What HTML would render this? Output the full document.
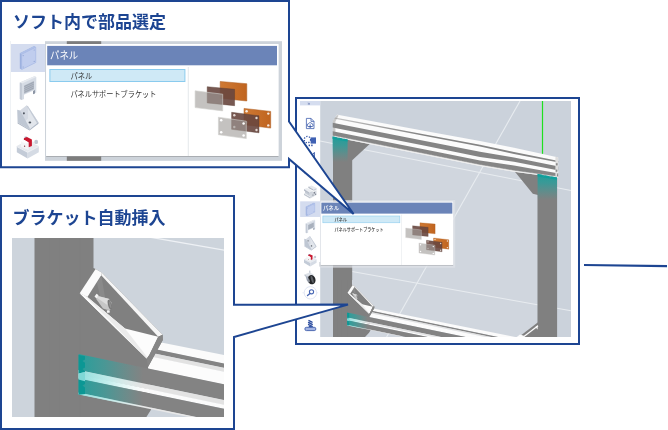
<!DOCTYPE html>
<html lang="ja">
<head>
<meta charset="utf-8">
<title>ソフト内で部品選定 / ブラケット自動挿入</title>
<style>
html,body{margin:0;padding:0;background:#fff;width:668px;height:430px;overflow:hidden}
svg{display:block;position:absolute;left:0;top:0;will-change:transform}
text{font-family:"Liberation Sans","Noto Sans CJK JP",sans-serif}
.ttl{font-weight:700;font-size:17px;fill:#1d4592}
</style>
</head>
<body>
<svg width="668" height="430" viewBox="0 0 668 430">
<defs>
  <clipPath id="cpMain"><rect x="300" y="101" width="271" height="236"/></clipPath>
  <clipPath id="cpBr"><rect x="12" y="238" width="212" height="179"/></clipPath>
  <linearGradient id="tealV" x1="0" y1="0" x2="0" y2="1">
    <stop offset="0" stop-color="#1f9e9b" stop-opacity="1"/>
    <stop offset="0.35" stop-color="#2a9f9c" stop-opacity=".8"/>
    <stop offset="1" stop-color="#3a9f9c" stop-opacity="0"/>
  </linearGradient>
  <linearGradient id="tealH" x1="0" y1="0" x2="1" y2="0">
    <stop offset="0" stop-color="#259f9c" stop-opacity="1"/>
    <stop offset="0.4" stop-color="#339f9c" stop-opacity=".72"/>
    <stop offset="1" stop-color="#3f9f9c" stop-opacity="0"/>
  </linearGradient>
  <linearGradient id="tealL" x1="0" y1="0" x2="1" y2="0">
    <stop offset="0" stop-color="#8fdedc" stop-opacity="1"/>
    <stop offset="0.45" stop-color="#b5ecea" stop-opacity=".8"/>
    <stop offset="1" stop-color="#d5f5f4" stop-opacity="0"/>
  </linearGradient>
  <linearGradient id="ubD" gradientUnits="userSpaceOnUse" x1="0" y1="0" x2="-1" y2="5" gradientTransform="translate(337.6,123.7)">
    <stop offset="0" stop-color="#8e8e8e"/><stop offset=".2" stop-color="#828282"/><stop offset="1" stop-color="#808080"/>
  </linearGradient>
  <linearGradient id="ubG" gradientUnits="userSpaceOnUse" x1="0" y1="0" x2="-1" y2="5" gradientTransform="translate(337.6,132.2)">
    <stop offset="0" stop-color="#929292"/><stop offset=".25" stop-color="#838383"/><stop offset="1" stop-color="#808080"/>
  </linearGradient>
  <linearGradient id="org" x1="0" y1="0" x2="1" y2="0">
    <stop offset="0" stop-color="#cf7a35"/><stop offset="1" stop-color="#c0641f"/>
  </linearGradient>
  <linearGradient id="ubT" gradientUnits="userSpaceOnUse" x1="335" y1="0" x2="420" y2="0">
    <stop offset="0" stop-color="#c4c4c4"/><stop offset="1" stop-color="#848484"/>
  </linearGradient>
</defs>

<!-- ================= MAIN SCREENSHOT BOX ================= -->
<rect x="296" y="98" width="283" height="246" fill="#fff" stroke="#1d4592" stroke-width="2"/>
<g id="mainview" clip-path="url(#cpMain)">
  <rect x="300" y="101" width="271" height="236" fill="#cbd2db"/>
  <polygon points="352,138 537.5,175 537.5,337 352,337" fill="#d0d6de"/>
<line x1="520" y1="101" x2="386.6" y2="337" stroke="#e8ecf0" stroke-width="1.1"/>
<line x1="320" y1="141" x2="571" y2="190.5" stroke="#e8ecf0" stroke-width="1.1"/>
<line x1="352" y1="271.5" x2="571" y2="310.8" stroke="#e8ecf0" stroke-width="1.1"/>
<g transform="translate(321.89,198.42) scale(0.322)">
<polygon points="140.0,338.3 800.0,470.3 800.0,482.9 140.0,346.2" fill="#fbfbfb"/>
<polygon points="140.0,346.0 800.0,482.7 800.0,487.3 140.0,350.6" fill="#848484"/>
<polygon points="140.0,350.4 800.0,487.1 800.0,491.2 140.0,354.5" fill="#e2e2e2"/>
<polygon points="140.0,354.3 800.0,491.0 800.0,503.7 140.0,367.0" fill="#fcfcfc"/>
<polygon points="34.5,150 93.5,150 93.5,268 95.6,269 102,272.8 162.6,334.7 162.8,340 148,367 151,409.7 146.4,417 134,430 128,440 34.5,440" fill="#808080"/>
<rect x="49" y="150" width=".7" height="290" fill="#7e7e7e"/>
<rect x="59.4" y="150" width=".7" height="290" fill="#7e7e7e"/>
<rect x="79.6" y="150" width=".7" height="290" fill="#7e7e7e"/>
<polygon points="78.6,354.1 800.0,503.5 800.0,519.5 78.6,370.1" fill="#838383"/>
<polygon points="78.6,369.9 800.0,519.3 800.0,524.2 78.6,374.8" fill="#e3e3e3"/>
<polygon points="78.6,374.6 800.0,524.0 800.0,528.1 78.6,378.7" fill="#fbfbfb"/>
<polygon points="78.6,378.5 800.0,527.9 800.0,542.2 78.6,392.8" fill="#838383"/>
<polygon points="78.6,392.6 250.0,428.1 250.0,429.7 78.6,394.2" fill="#e8e8e8"/>
<polygon points="78.6,354.1 143.0,367.5 143.0,383.5 78.6,370.1" fill="url(#tealH)"/>
<polygon points="78.6,369.9 143.0,383.3 143.0,392.1 78.6,378.7" fill="url(#tealL)"/>
<polygon points="78.6,378.5 143.0,391.9 143.0,406.2 78.6,392.8" fill="url(#tealH)"/>
<polygon points="78.6,392.6 143.0,406.0 143.0,407.8 78.6,394.4" fill="url(#tealL)"/>
<polygon points="78.6,354.9 85,356.3 85,359.5 82.4,361 85,362.8 85,367.5 82.4,369 85,371.2 85,372 78.6,373.4" fill="#0c9794"/>
<polygon points="78.6,379.6 85,381.2 85,384 82.4,385.6 85,387.4 85,394 78.6,394.8" fill="#0c9794"/>
<polygon points="78.6,373.4 85,372 85,381.2 78.6,379.6" fill="#7fd8d6"/>
<polygon points="97,283 101.4,276 105.2,298.8 100.4,297.2" fill="#8a8a8a"/>
<polygon points="95.6,269 102,272.8 101.2,275.3 87.4,297.1 79.7,293.2" fill="#fbfbfb"/>
<polygon points="102,272.8 162.6,334.7 158.2,336.7 101.2,275.3" fill="#f6f6f6"/>
<polygon points="79.7,293.2 87.4,297.1 125,328.5 158.2,336.7 149.3,355.1 146.7,358.5" fill="#fcfcfc"/>
<polygon points="87.4,297.1 125,328.5 147.5,357.4 146.7,358.5 84.5,295.6" fill="#ebebeb"/>
<polygon points="79.7,293.2 84.5,295.6 146.7,358.5 146,358" fill="#fcfcfc"/>
<polygon points="158.2,336.7 162.6,334.7 162.8,340 148,367 146.7,358.5 149.3,355.1" fill="#868686"/>
<polygon points="96.2,299 97.8,296 108.6,298.8 111.4,302.4 110.4,310 106.8,309.8 103,308.6" fill="#c6c6c6"/>
<polygon points="96.8,297.8 97.8,296 108.6,298.8 110,300.8 107,304.8" fill="#dcdcdc"/>
<polygon points="94.5,296.4 96.6,293.7 98.6,295.3 96.5,298.6" fill="#f4f4f4"/>
<ellipse cx="109.7" cy="304.6" rx="1.7" ry="5" transform="rotate(-14 109.7 304.6)" fill="#787878"/>
<ellipse cx="110.1" cy="304.8" rx=".8" ry="3.6" transform="rotate(-14 110.1 304.8)" fill="#8e8e8e"/>
<rect x="106.9" y="310.2" width="2.8" height="2.6" rx=".6" fill="#f3f3f3"/>
</g>
<rect x="333" y="130" width="19.2" height="150" fill="#808080"/>
<rect x="537.5" y="170" width="19.6" height="170" fill="#808080"/>
<polygon points="350,137 370.8,141.4 370.8,143 352.2,160.2 350,160.2" fill="#808080"/>
<polygon points="513.9,170.6 540,175 540,195.4 532.8,193.7" fill="#808080"/>
<polygon points="538,322.3 518.5,337.2 538,337.2" fill="#808080"/>
<path d="M538,325.8 L523,337.2" stroke="#fafafa" stroke-width="1.3" fill="none"/>
<polygon points="535.4,327 537.6,325.2 537.6,329.4" fill="#fafafa"/>
<polygon points="516.5,337.2 520,334.4 524.6,336 523,337.2" fill="#fafafa"/>
<polygon points="331.5,113.7 337.6,114.8 425.0,130.9 480.0,141.0 514.0,147.7 557.5,157.2 558.2,157.4 558.2,177.6 557.5,177.5 514.0,171.8 480.0,166.1 425.0,155.1 337.6,137.8 331.5,136.6" fill="#fbfbfb"/>
<polygon points="331.5,116.8 337.6,118.0 425.0,134.6 480.0,144.8 514.0,151.9 557.5,160.8 558.2,160.9 558.2,162.4 557.5,162.3 514.0,153.9 480.0,146.5 425.0,136.1 337.6,119.2 331.5,118.0" fill="url(#ubT)"/>
<polygon points="331.5,122.5 337.6,123.7 425.0,140.9 480.0,151.7 514.0,157.6 557.5,166.3 558.2,166.4 558.2,170.4 557.5,170.3 514.0,161.8 480.0,157.0 425.0,145.7 337.6,128.5 331.5,127.3" fill="#848484"/>
<polygon points="331.5,131.0 337.6,132.2 425.0,149.4 480.0,160.5 514.0,165.6 557.5,173.2 558.2,173.3 558.2,176.3 557.5,176.2 514.0,170.2 480.0,164.5 425.0,153.5 337.6,136.2 331.5,135.0" fill="#868686"/>
<polygon points="331.5,135.0 337.6,136.2 425.0,153.5 480.0,164.5 514.0,170.2 557.5,176.2 558.2,176.3 558.2,176.8 557.5,176.7 514.0,170.8 480.0,165.1 425.0,154.1 337.6,136.8 331.5,135.6" fill="#7c7c7c"/>
<polygon points="331.5,135.6 337.6,136.8 425.0,154.1 480.0,165.1 514.0,170.8 557.5,176.7 558.2,176.8 558.2,177.6 557.5,177.5 514.0,171.8 480.0,166.1 425.0,155.1 337.6,137.8 331.5,136.6" fill="#ececec"/>
<polygon points="330,110 337.9,113.3 332.8,121 332.8,140 330,140" fill="#cbd2db"/>
<polygon points="332.8,121 337,115 338.6,115.6 335.4,121.6 335.4,136.4 332.8,136" fill="#8c8c8c" fill-opacity=".45"/>
<polygon points="555.4,156.8 558,157.3 558,170 556.6,177.4 555.4,177.2" fill="#dedede"/>
<rect x="555.9" y="163.2" width="1.7" height="2.2" fill="#8a8a8a"/>
<rect x="555.7" y="169.6" width="1.6" height="2.2" fill="#8a8a8a"/>
<polygon points="332.6,136.6 347.6,139.4 347.6,162 332.6,162" fill="url(#tealV)"/>
<polygon points="332.6,136.6 336.5,137.3 337.6,139.2 339,137.8 341.4,138.2 342.6,140.2 344,138.7 347.6,139.4 347.6,141.4 332.6,139" fill="#10a09c"/>
<polygon points="537.6,174 557,177.6 557,200 537.6,200" fill="url(#tealV)"/>
<polygon points="537.6,174 542,174.8 543.4,177 545,175.4 548.5,176 550,178.2 551.6,176.6 557,177.6 557,179.8 537.6,176.4" fill="#10a09c"/>
<rect x="541.9" y="101" width="1.2" height="52.8" fill="#1fe01f"/>
  <rect x="300" y="101" width="20.2" height="236" fill="#fff"/>
<rect x="300" y="101" width="20.2" height="4.4" fill="#d5ddef"/>
<text x="307.6" y="105" font-size="4.6" fill="#5a6fa8">»</text>
<path d="M306.4,118.4 h4.6 l3,3 v7.2 h-7.6 z M311,118.4 v3 h3" fill="#fff" stroke="#4161ae" stroke-width=".8" stroke-linejoin="round"/>
<path d="M308,126.6 a1.6,1.6 0 0 1 .6,-3 a1.9,1.9 0 0 1 3.4,.3 a1.4,1.4 0 0 1 .2,2.7 z" fill="none" stroke="#3152a4" stroke-width=".8"/>
<path d="M310.2,124.4 v3 M309.2,126.4 l1,1.2 l1,-1.2" fill="none" stroke="#3152a4" stroke-width=".8"/>
<circle cx="307.4" cy="139.6" r="3.2" fill="none" stroke="#3152a4" stroke-width="1.3" stroke-dasharray="1.3 1.4"/>
<rect x="310.6" y="137.4" width="5.4" height="6.2" fill="#3f61b3"/>
<rect x="308.6" y="144.6" width="1.4" height="1.6" fill="#3152a4"/><rect x="311.2" y="144.6" width="1.4" height="1.6" fill="#3152a4"/>
<path d="M311.4,156 l3,-3.6 v5 z" fill="none" stroke="#3152a4" stroke-width=".9"/>
<path d="M304.5,173 l2,1 M309,176 l3,.5" stroke="#3152a4" stroke-width=".9"/>
<polygon points="309.8,193.4 316.5,190.2 316.5,195 310,198.5" fill="#d3d8df"/>
<polygon points="304,193.4 310,196.9 310,198.5 304,195" fill="#bfc5cf"/>
<polygon points="304,193.4 305.6,192.7 310.6,195.6 310,196.9" fill="#e3e6eb"/>
<polygon points="305,190.6 309.8,193.6 309.8,196 305,193" fill="#c6ccd5"/>
<polygon points="308.4,186.6 311.6,185.4 316.5,188 313.5,189.4" fill="#e6e9ee"/>
<polygon points="308.4,186.6 313.5,189.4 313.5,190.8 308.4,188" fill="#b2b8c3"/>
<polygon points="313.5,189.4 316.5,188 316.5,189.7 313.5,190.9" fill="#cbd0d9"/>
<polygon points="304,189.1 307,188 312.6,191 309.5,192.4" fill="#eaedf1"/>
<polygon points="304,189.1 309.5,192.4 309.5,194 304,190.7" fill="#b7bdc8"/>
<polygon points="309.5,192.4 312.6,191 312.6,192.7 309.5,194" fill="#cdd2da"/>
<rect x="313.7" y="192.3" width="1.3" height="1.1" fill="#5b6270"/>
<rect x="315.1" y="193.7" width="1" height="1.1" fill="#6b7280"/>
<rect x="312.4" y="194.6" width="1.1" height="1" fill="#7b828f"/>
<g transform="translate(294.45,176.66) scale(0.57,0.566)">
<rect x="10" y="43.6" width="45" height="27.6" fill="#d4dcef"/>
<polygon points="19.8,53.2 34.3,46.1 35.8,47.2 35.8,62.5 21.7,69.5 19.8,68.4" fill="#9db1df"/><polygon points="19.8,53.2 34.3,46.1 35.8,47.2 21.7,54.3" fill="#b0c1e8"/><polygon points="21.7,54.3 35.8,47.2 35.8,62.5 21.7,69.5" fill="#c0cdee" stroke="#a9bbe6" stroke-width=".6"/><circle cx="23.2" cy="55.6" r=".6" fill="#8ea3d4"/><circle cx="34.2" cy="50" r=".6" fill="#8ea3d4"/><circle cx="23.2" cy="67" r=".6" fill="#8ea3d4"/><circle cx="34.2" cy="61.4" r=".6" fill="#8ea3d4"/>
<polygon points="19.8,82.6 34.4,76.2 36.3,77 36.3,92.6 34.2,93.6 34.2,90.2 24,94.8 24,99 21.8,100 19.8,99" fill="#d6dce5"/><polygon points="19.8,82.6 34.4,76.2 36.3,77 21.9,83.5" fill="#e8ebf0"/><polygon points="19.8,82.6 21.9,83.5 21.9,100 19.8,99" fill="#c3cad5"/><polygon points="24.2,85.4 33.9,81 33.9,89.2 24.2,93.8" fill="#b3bac6"/><line x1="24.2" y1="86.6" x2="33.9" y2="82.2" stroke="#959daa" stroke-width=".7"/><line x1="24.2" y1="88.5" x2="33.9" y2="84.1" stroke="#959daa" stroke-width=".7"/><line x1="24.2" y1="90.4" x2="33.9" y2="86.0" stroke="#959daa" stroke-width=".7"/><line x1="24.2" y1="92.3" x2="33.9" y2="87.9" stroke="#959daa" stroke-width=".7"/><polygon points="33,91 35,90.1 35,93.4 33,94.2" fill="#8d96a5"/>
<polygon points="20.2,110.4 26.5,105.4 28,106.3 38.4,122.3 38.4,123.8 29.5,129.4" fill="#e2e6ec"/><polygon points="20.2,110.4 26.5,105.4 28,106.3 28,118.6 24,122" fill="#d5dae3"/><polygon points="26.5,105.4 28,106.3 38.4,122.3 37,123.2" fill="#c3cad5"/><polygon points="17.2,109.7 20.2,110.4 29.9,128.4 29.5,129.4 17.6,122.3" fill="#bfc7d3"/><polygon points="29.5,129.4 38.4,122.3 38.4,123.8 29.6,130.6 17.6,123.4 17.6,122.3" fill="#aeb7c5"/><ellipse cx="23.9" cy="113.3" rx="1" ry="1.15" fill="#4f5660"/><ellipse cx="29.9" cy="122.4" rx="1.35" ry="1" fill="#4f5660"/>
<polygon points="16.8,146 27,140.6 38.8,146 27.6,151.6" fill="#e6e9ee"/><rect x="24.6" y="136.6" width="2.3" height="3.4" fill="#9fb0c8"/><polygon points="23.9,138.2 27,136.9 31.9,139.5 31.9,146 28.7,147.2 23.9,144.8" fill="#c9182f"/><polygon points="32.1,141.2 34.3,141.9 34.3,146.6 32.1,147" fill="#e9ebef"/><ellipse cx="36.2" cy="141.9" rx="1.9" ry="2.2" fill="#c0c6d1"/><polygon points="20.9,141.2 24.4,139.9 28.7,142.4 28.7,150.1 20.9,146.7" fill="#f4f4f5"/><polygon points="20.9,141.2 24.4,139.9 28.7,142.4 25.2,143.6" fill="#fdfdfd"/><circle cx="24.6" cy="146.2" r=".65" fill="#7a2a35"/><polygon points="16.8,146 27.6,151.6 27.6,158.6 16.8,152.3" fill="#c3cbd7"/><polygon points="27.6,151.6 38.8,146 38.8,152.3 27.6,158.6" fill="#d5dbe4"/><polygon points="16.8,146 27.6,151.6 38.8,146 38.8,147 27.6,152.7 16.8,147" fill="#eef0f4"/>
</g>
<rect x="309.3" y="270.6" width="1" height="2.6" fill="#b5bdc9"/>
<polygon points="304.4,274.4 309.5,272.5 313.4,274.3 308.2,276.6" fill="#dde1e7"/>
<polygon points="304.4,274.4 308.2,276.6 308.2,277.8 304.4,275.5" fill="#b8c0cc"/>
<polygon points="308.2,276.6 313.4,274.3 313.4,275.4 308.2,277.8" fill="#c9cfd8"/>
<ellipse cx="311.6" cy="279.7" rx="3.9" ry="4.7" transform="rotate(-16 311.6 279.7)" fill="#232528"/>
<ellipse cx="312.2" cy="279.4" rx="1.1" ry="3.9" transform="rotate(-16 312.2 279.4)" fill="#5d6065"/>
<polygon points="305.4,275.8 308.4,277.4 308.8,281.6 306.8,280.4" fill="#aab2bf"/>
<ellipse cx="308.6" cy="280.6" rx="1.2" ry="1.9" transform="rotate(-16 308.6 280.6)" fill="#8c929c"/>
<circle cx="310.4" cy="292.8" r="6.2" fill="#fff" stroke="#dde2f2" stroke-width=".9"/>
<path d="M302.4,292.8 h1.8 M316.6,292.8 h1.6" stroke="#e3e7f4" stroke-width=".8"/>
<circle cx="311.5" cy="291.8" r="2.1" fill="none" stroke="#4766b3" stroke-width="1.1"/>
<path d="M310,293.4 l-2.5,2.1" stroke="#4766b3" stroke-width="1.3" stroke-linecap="round"/>
<path d="M309,320.6 l3,1.5 M308.6,322.5 l3.6,1.8 M308.6,324.6 l3.6,1.8 M309.4,326.6 l1.6,.8" fill="none" stroke="#2f4fa0" stroke-width="1.5" stroke-linecap="round"/>
<rect x="304.9" y="327.3" width="10.9" height="3.3" rx="1.5" fill="#a3b4e2" stroke="#3f5eac" stroke-width=".9"/>
<rect x="319.6" y="262" width="1" height="4.6" fill="#aab0ba"/>
  <g transform="translate(294.45,176.66) scale(0.57,0.566)">
<rect x="45" y="41.2" width="237" height="119.6" fill="#dfe3e8" fill-opacity=".7"/>
<rect x="46.2" y="155.9" width="232.2" height="1.3" fill="#8f9398" fill-opacity=".6"/>
<rect x="46.2" y="44.1" width="232.2" height="111.9" fill="#fff"/>
<rect x="47.2" y="45.9" width="229.8" height="19.4" fill="#6b84b8"/>
<rect x="49.9" y="69.5" width="135" height="12" fill="#cfe9f6" stroke="#8acbee" stroke-width="1"/>
<rect x="187.8" y="67" width="0.9" height="89" fill="#e2e5e9"/>
<text x="50" y="59.4" font-size="9.7" fill="#fff" textLength="28.3" lengthAdjust="spacingAndGlyphs" font-weight="500" transform="translate(0,-0.9)">パネル</text>
<text x="70.4" y="78.5" font-size="7.9" fill="#333" textLength="21.8" lengthAdjust="spacingAndGlyphs" font-weight="500" transform="translate(0,-0.9)">パネル</text>
<text x="70.4" y="97.1" font-size="7.9" fill="#333" textLength="86" lengthAdjust="spacingAndGlyphs" font-weight="500" transform="translate(0,-0.9)">パネルサポートブラケット</text>
<polygon points="220.2,81.5 246.8,83.7 246.8,101 220.2,98.3" fill="url(#org)" stroke="#ad5d20" stroke-width=".5"/>
<polygon points="207.2,86.7 234.6,89.3 234.6,105.7 207.2,102.9" fill="#68463e" fill-opacity=".9" stroke="#563930" stroke-width=".4"/>
<polygon points="195.1,90.8 222.7,94.2 222.7,110.9 195.1,107.6" fill="#9f9d9a" fill-opacity=".62" stroke="#d2d1cf" stroke-width=".6"/>
<polygon points="244,108.4 270.7,111.4 270.7,128.1 244,124.7" fill="url(#org)" stroke="#ad5d20" stroke-width=".5"/>
<circle cx="246.6" cy="111.2" r="1.2" fill="#f6ebe1"/>
<circle cx="268.3" cy="113.6" r="1.2" fill="#f6ebe1"/>
<circle cx="268.3" cy="125.4" r="1.2" fill="#f6ebe1"/>
<circle cx="246.6" cy="122.4" r="1.2" fill="#f6ebe1"/>
<polygon points="231.6,112.3 259,115.8 259,132.8 231.6,129.3" fill="#68463e" fill-opacity=".9" stroke="#563930" stroke-width=".4"/>
<circle cx="234.3" cy="115.2" r="1.2" fill="#e2d8d3"/>
<circle cx="256.5" cy="118" r="1.2" fill="#e2d8d3"/>
<circle cx="256.5" cy="130" r="1.2" fill="#e2d8d3"/>
<circle cx="234.3" cy="127" r="1.2" fill="#e2d8d3"/>
<polygon points="218.4,117.2 246.3,121.2 246.3,138.6 218.4,134.7" fill="#9f9d9a" fill-opacity=".62" stroke="#d2d1cf" stroke-width=".6"/>
<circle cx="221.2" cy="120.2" r="1.25" fill="#fff"/>
<circle cx="243.6" cy="123.6" r="1.25" fill="#fff"/>
<circle cx="243.6" cy="135.6" r="1.25" fill="#fff"/>
<circle cx="221.2" cy="132.2" r="1.25" fill="#fff"/>
</g>
</g>

<!-- connector line to the right -->
<line x1="584" y1="265" x2="667" y2="266.2" stroke="#1d4592" stroke-width="2.2"/>

<!-- ================= TOP CALLOUT ================= -->
<polygon points="1,1 289,1 289,121.5 353.6,214 289,159 289,167.3 1,167.3" fill="#fff" stroke="#1d4592" stroke-width="2" stroke-linejoin="miter"/>
<text class="ttl" x="13" y="28">ソフト内で部品選定</text>
<g id="bigpanel">
  <rect x="10.2" y="41" width="0.8" height="119" fill="#eceff3"/>
<rect x="11" y="44" width="34" height="28" fill="#d4dcef"/>
<polygon points="19.8,53.2 34.3,46.1 35.8,47.2 35.8,62.5 21.7,69.5 19.8,68.4" fill="#9db1df"/><polygon points="19.8,53.2 34.3,46.1 35.8,47.2 21.7,54.3" fill="#b0c1e8"/><polygon points="21.7,54.3 35.8,47.2 35.8,62.5 21.7,69.5" fill="#c0cdee" stroke="#a9bbe6" stroke-width=".6"/><circle cx="23.2" cy="55.6" r=".6" fill="#8ea3d4"/><circle cx="34.2" cy="50" r=".6" fill="#8ea3d4"/><circle cx="23.2" cy="67" r=".6" fill="#8ea3d4"/><circle cx="34.2" cy="61.4" r=".6" fill="#8ea3d4"/>
<polygon points="19.8,82.6 34.4,76.2 36.3,77 36.3,92.6 34.2,93.6 34.2,90.2 24,94.8 24,99 21.8,100 19.8,99" fill="#d6dce5"/><polygon points="19.8,82.6 34.4,76.2 36.3,77 21.9,83.5" fill="#e8ebf0"/><polygon points="19.8,82.6 21.9,83.5 21.9,100 19.8,99" fill="#c3cad5"/><polygon points="24.2,85.4 33.9,81 33.9,89.2 24.2,93.8" fill="#b3bac6"/><line x1="24.2" y1="86.6" x2="33.9" y2="82.2" stroke="#959daa" stroke-width=".7"/><line x1="24.2" y1="88.5" x2="33.9" y2="84.1" stroke="#959daa" stroke-width=".7"/><line x1="24.2" y1="90.4" x2="33.9" y2="86.0" stroke="#959daa" stroke-width=".7"/><line x1="24.2" y1="92.3" x2="33.9" y2="87.9" stroke="#959daa" stroke-width=".7"/><polygon points="33,91 35,90.1 35,93.4 33,94.2" fill="#8d96a5"/>
<polygon points="20.2,110.4 26.5,105.4 28,106.3 38.4,122.3 38.4,123.8 29.5,129.4" fill="#e2e6ec"/><polygon points="20.2,110.4 26.5,105.4 28,106.3 28,118.6 24,122" fill="#d5dae3"/><polygon points="26.5,105.4 28,106.3 38.4,122.3 37,123.2" fill="#c3cad5"/><polygon points="17.2,109.7 20.2,110.4 29.9,128.4 29.5,129.4 17.6,122.3" fill="#bfc7d3"/><polygon points="29.5,129.4 38.4,122.3 38.4,123.8 29.6,130.6 17.6,123.4 17.6,122.3" fill="#aeb7c5"/><ellipse cx="23.9" cy="113.3" rx="1" ry="1.15" fill="#4f5660"/><ellipse cx="29.9" cy="122.4" rx="1.35" ry="1" fill="#4f5660"/>
<polygon points="16.8,146 27,140.6 38.8,146 27.6,151.6" fill="#e6e9ee"/><rect x="24.6" y="136.6" width="2.3" height="3.4" fill="#9fb0c8"/><polygon points="23.9,138.2 27,136.9 31.9,139.5 31.9,146 28.7,147.2 23.9,144.8" fill="#c9182f"/><polygon points="32.1,141.2 34.3,141.9 34.3,146.6 32.1,147" fill="#e9ebef"/><ellipse cx="36.2" cy="141.9" rx="1.9" ry="2.2" fill="#c0c6d1"/><polygon points="20.9,141.2 24.4,139.9 28.7,142.4 28.7,150.1 20.9,146.7" fill="#f4f4f5"/><polygon points="20.9,141.2 24.4,139.9 28.7,142.4 25.2,143.6" fill="#fdfdfd"/><circle cx="24.6" cy="146.2" r=".65" fill="#7a2a35"/><polygon points="16.8,146 27.6,151.6 27.6,158.6 16.8,152.3" fill="#c3cbd7"/><polygon points="27.6,151.6 38.8,146 38.8,152.3 27.6,158.6" fill="#d5dbe4"/><polygon points="16.8,146 27.6,151.6 38.8,146 38.8,147 27.6,152.7 16.8,147" fill="#eef0f4"/>
<rect x="45" y="41.2" width="237" height="119.6" fill="#cdd3da"/>
<rect x="46.2" y="44.1" width="232.2" height="112" fill="#fff"/>
<rect x="46.2" y="155.9" width="232.2" height="1.1" fill="#a9adb2"/>
<rect x="66.8" y="41.2" width="34.4" height="2.9" fill="#7d7d7d"/>
<rect x="66.8" y="156.4" width="34.4" height="4.4" fill="#7d7d7d"/>
<rect x="46.2" y="44.1" width="232.2" height="111.9" fill="#fff"/>
<rect x="47.2" y="45.9" width="229.8" height="19.4" fill="#6b84b8"/>
<rect x="49.9" y="69.5" width="135" height="12" fill="#cfe9f6" stroke="#8acbee" stroke-width="1"/>
<rect x="187.8" y="67" width="0.9" height="89" fill="#e2e5e9"/>
<text x="50" y="59.4" font-size="9.7" fill="#fff" textLength="28.3" lengthAdjust="spacingAndGlyphs">パネル</text>
<text x="70.4" y="78.5" font-size="7.9" fill="#333" textLength="21.8" lengthAdjust="spacingAndGlyphs">パネル</text>
<text x="70.4" y="97.1" font-size="7.9" fill="#333" textLength="86" lengthAdjust="spacingAndGlyphs">パネルサポートブラケット</text>
<polygon points="220.2,81.5 246.8,83.7 246.8,101 220.2,98.3" fill="url(#org)" stroke="#ad5d20" stroke-width=".5"/>
<polygon points="207.2,86.7 234.6,89.3 234.6,105.7 207.2,102.9" fill="#68463e" fill-opacity=".9" stroke="#563930" stroke-width=".4"/>
<polygon points="195.1,90.8 222.7,94.2 222.7,110.9 195.1,107.6" fill="#9f9d9a" fill-opacity=".62" stroke="#d2d1cf" stroke-width=".6"/>
<polygon points="244,108.4 270.7,111.4 270.7,128.1 244,124.7" fill="url(#org)" stroke="#ad5d20" stroke-width=".5"/>
<circle cx="246.6" cy="111.2" r="1.2" fill="#f6ebe1"/>
<circle cx="268.3" cy="113.6" r="1.2" fill="#f6ebe1"/>
<circle cx="268.3" cy="125.4" r="1.2" fill="#f6ebe1"/>
<circle cx="246.6" cy="122.4" r="1.2" fill="#f6ebe1"/>
<polygon points="231.6,112.3 259,115.8 259,132.8 231.6,129.3" fill="#68463e" fill-opacity=".9" stroke="#563930" stroke-width=".4"/>
<circle cx="234.3" cy="115.2" r="1.2" fill="#e2d8d3"/>
<circle cx="256.5" cy="118" r="1.2" fill="#e2d8d3"/>
<circle cx="256.5" cy="130" r="1.2" fill="#e2d8d3"/>
<circle cx="234.3" cy="127" r="1.2" fill="#e2d8d3"/>
<polygon points="218.4,117.2 246.3,121.2 246.3,138.6 218.4,134.7" fill="#9f9d9a" fill-opacity=".62" stroke="#d2d1cf" stroke-width=".6"/>
<circle cx="221.2" cy="120.2" r="1.25" fill="#fff"/>
<circle cx="243.6" cy="123.6" r="1.25" fill="#fff"/>
<circle cx="243.6" cy="135.6" r="1.25" fill="#fff"/>
<circle cx="221.2" cy="132.2" r="1.25" fill="#fff"/>
</g>

<!-- ================= BOTTOM CALLOUT ================= -->
<polygon points="1,196 234,196 234,304.8 348,304.6 234,337 234,429 1,429" fill="#fff" stroke="#1d4592" stroke-width="2" stroke-linejoin="miter"/>
<text class="ttl" x="12.4" y="224.3">ブラケット自動挿入</text>
<g id="bracketview" clip-path="url(#cpBr)">
  <rect x="12" y="238" width="212" height="179" fill="#cdd4dc"/>
  <line x1="150" y1="237.2" x2="226" y2="250.4" stroke="#eef1f5" stroke-width="1.3"/>
<polygon points="140.0,338.3 260.0,362.3 260.0,371.1 140.0,346.2" fill="#fbfbfb"/>
<polygon points="140.0,346.0 260.0,370.9 260.0,375.5 140.0,350.6" fill="#848484"/>
<polygon points="140.0,350.4 260.0,375.3 260.0,379.4 140.0,354.5" fill="#e2e2e2"/>
<polygon points="140.0,354.3 260.0,379.2 260.0,391.9 140.0,367.0" fill="#fcfcfc"/>
<polygon points="34.5,150 93.5,150 93.5,268 95.6,269 102,272.8 162.6,334.7 162.8,340 148,367 151,409.7 146.4,417 134,430 128,440 34.5,440" fill="#808080"/>
<rect x="49" y="150" width=".7" height="290" fill="#7e7e7e"/>
<rect x="59.4" y="150" width=".7" height="290" fill="#7e7e7e"/>
<rect x="79.6" y="150" width=".7" height="290" fill="#7e7e7e"/>
<polygon points="78.6,354.1 260.0,391.7 260.0,407.7 78.6,370.1" fill="#838383"/>
<polygon points="78.6,369.9 260.0,407.5 260.0,412.4 78.6,374.8" fill="#e3e3e3"/>
<polygon points="78.6,374.6 260.0,412.2 260.0,416.3 78.6,378.7" fill="#fbfbfb"/>
<polygon points="78.6,378.5 260.0,416.1 260.0,430.4 78.6,392.8" fill="#838383"/>
<polygon points="78.6,392.6 250.0,428.1 250.0,429.7 78.6,394.2" fill="#e8e8e8"/>
<polygon points="78.6,354.1 143.0,367.5 143.0,383.5 78.6,370.1" fill="url(#tealH)"/>
<polygon points="78.6,369.9 143.0,383.3 143.0,392.1 78.6,378.7" fill="url(#tealL)"/>
<polygon points="78.6,378.5 143.0,391.9 143.0,406.2 78.6,392.8" fill="url(#tealH)"/>
<polygon points="78.6,392.6 143.0,406.0 143.0,407.8 78.6,394.4" fill="url(#tealL)"/>
<polygon points="78.6,354.9 85,356.3 85,359.5 82.4,361 85,362.8 85,367.5 82.4,369 85,371.2 85,372 78.6,373.4" fill="#0c9794"/>
<polygon points="78.6,379.6 85,381.2 85,384 82.4,385.6 85,387.4 85,394 78.6,394.8" fill="#0c9794"/>
<polygon points="78.6,373.4 85,372 85,381.2 78.6,379.6" fill="#7fd8d6"/>
<polygon points="97,283 101.4,276 105.2,298.8 100.4,297.2" fill="#8a8a8a"/>
<polygon points="95.6,269 102,272.8 101.2,275.3 87.4,297.1 79.7,293.2" fill="#fbfbfb"/>
<polygon points="102,272.8 162.6,334.7 158.2,336.7 101.2,275.3" fill="#f6f6f6"/>
<polygon points="79.7,293.2 87.4,297.1 125,328.5 158.2,336.7 149.3,355.1 146.7,358.5" fill="#fcfcfc"/>
<polygon points="87.4,297.1 125,328.5 147.5,357.4 146.7,358.5 84.5,295.6" fill="#ebebeb"/>
<polygon points="79.7,293.2 84.5,295.6 146.7,358.5 146,358" fill="#fcfcfc"/>
<polygon points="158.2,336.7 162.6,334.7 162.8,340 148,367 146.7,358.5 149.3,355.1" fill="#868686"/>
<polygon points="96.2,299 97.8,296 108.6,298.8 111.4,302.4 110.4,310 106.8,309.8 103,308.6" fill="#c6c6c6"/>
<polygon points="96.8,297.8 97.8,296 108.6,298.8 110,300.8 107,304.8" fill="#dcdcdc"/>
<polygon points="94.5,296.4 96.6,293.7 98.6,295.3 96.5,298.6" fill="#f4f4f4"/>
<ellipse cx="109.7" cy="304.6" rx="1.7" ry="5" transform="rotate(-14 109.7 304.6)" fill="#787878"/>
<ellipse cx="110.1" cy="304.8" rx=".8" ry="3.6" transform="rotate(-14 110.1 304.8)" fill="#8e8e8e"/>
<rect x="106.9" y="310.2" width="2.8" height="2.6" rx=".6" fill="#f3f3f3"/>
</g>
</svg>
</body>
</html>
